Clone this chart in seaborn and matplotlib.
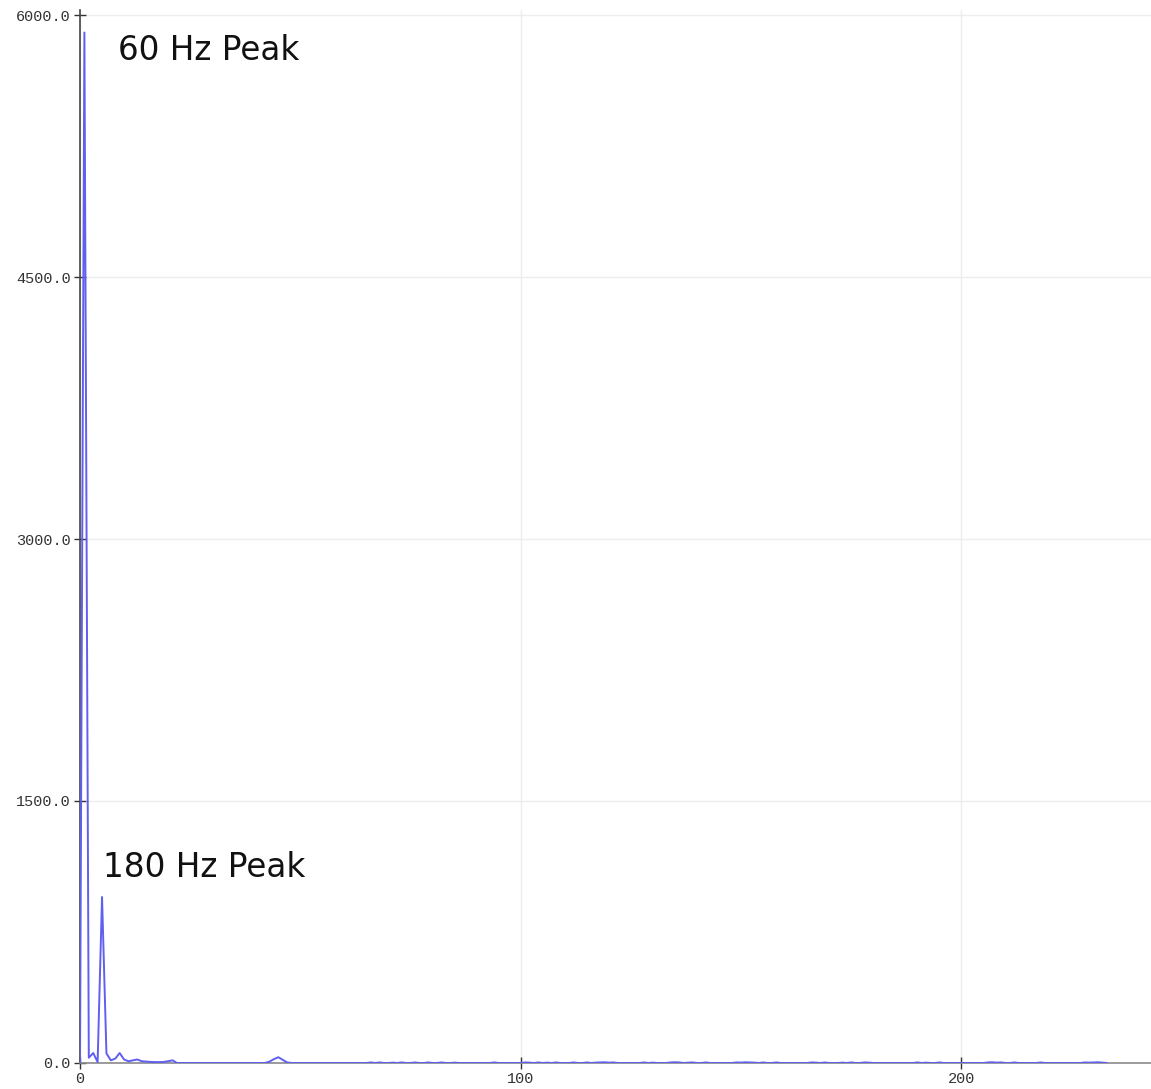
import numpy as np
import matplotlib
matplotlib.use('Agg')
import matplotlib.pyplot as plt
import pandas as pd
import seaborn as sns

# spectrum: bins 0..47 carry the peaks
head_vals = [0, 5900, 30, 57, 5, 950, 55, 15, 25, 57,
             20, 10, 15, 20, 10, 8, 6, 5, 5, 6,
             10, 15, 0, 0, 0, 0, 0, 0, 0, 0,
             0, 0, 0, 0, 0, 0, 0, 0, 0, 0,
             0, 0, 0, 8, 22, 33, 18, 3]
# tail (bins 48..233) is almost flat with tiny ripples
tail_vals = [0, 0, 0, 0, 0, 0, 0, 0, 0, 0,
             0, 0, 0, 0, 0, 0, 0, 0, 3, 0,
             3, 0, 0, 2, 0, 3, 0, 0, 3, 0,
             0, 3, 0, 0, 3, 0, 0, 2, 0, 0,
             0, 0, 0, 0, 0, 0, 3, 0, 0, 0,
             0, 0, 0, 3, 2, 0, 3, 0, 2, 0,
             3, 0, 0, 0, 3, 0, 0, 3, 0, 2,
             3, 4, 2, 3, 0, 0, 0, 0, 0, 0,
             3, 0, 2, 0, 0, 0, 3, 4, 3, 0,
             2, 3, 0, 0, 3, 0, 0, 0, 0, 0,
             0, 3, 2, 4, 3, 2, 0, 3, 0, 0,
             3, 0, 0, 0, 0, 0, 0, 0, 3, 2,
             0, 3, 0, 0, 0, 2, 0, 3, 0, 0,
             3, 2, 0, 0, 0, 0, 0, 0, 0, 0,
             0, 0, 3, 0, 2, 0, 0, 3, 0, 0,
             0, 0, 0, 0, 0, 0, 0, 0, 3, 4,
             2, 3, 0, 0, 3, 0, 0, 0, 0, 0,
             3, 0, 0, 0, 0, 0, 0, 0, 0, 0,
             3, 2, 3, 4, 2, 0]
amplitude = head_vals + tail_vals
bins = list(range(len(amplitude)))

x_ticks = [0, 100, 200]
y_ticks = [0.0, 1500.0, 3000.0, 4500.0, 6000.0]
labels = [("60 Hz Peak", 8.6, 5740), ("180 Hz Peak", 5.2, 1065)]

df = pd.DataFrame({'bin': bins, 'amp': amplitude})

sns.set_style('white')
fig = plt.figure(figsize=(11.51, 10.89), dpi=100)
ax = fig.add_axes([0.0695, 0.0239, 0.9305, 0.9671])

sns.lineplot(data=df, x='bin', y='amp', ax=ax, color='#5f5ff0', lw=1.4,
             zorder=3)

ax.set_xlim(0, 243)
ax.set_ylim(0, 6030)
ax.set_xticks(x_ticks)
ax.set_yticks(y_ticks)
ax.set_xticklabels([str(t) for t in x_ticks])
ax.set_yticklabels(['%.1f' % t for t in y_ticks])
ax.grid(True, color='#ededed', lw=1)
ax.set_xlabel('')
ax.set_ylabel('')

for s in ['top', 'right']:
    ax.spines[s].set_visible(False)
ax.spines['left'].set_color('#444444')
ax.spines['bottom'].set_color('#8a8a8a')
ax.spines['left'].set_linewidth(1.2)
ax.spines['bottom'].set_linewidth(1.2)
ax.tick_params(bottom=True, left=True, direction='inout', length=9,
               width=1, colors='#333333', pad=2)
for t in ax.get_xticklabels() + ax.get_yticklabels():
    t.set_family('Liberation Mono')
    t.set_fontsize(11)
    t.set_color('#333333')

for txt, x, y in labels:
    ax.text(x, y, txt, fontsize=23.5, color='#111111', va='baseline',
            ha='left', family='DejaVu Sans')

fig.savefig('out.png', dpi=100)
